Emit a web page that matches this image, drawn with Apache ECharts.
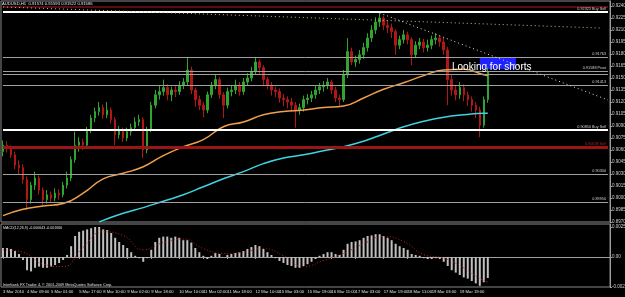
<!DOCTYPE html>
<html>
<head>
<meta charset="utf-8">
<script src="https://cdn.jsdelivr.net/npm/echarts@6/dist/echarts.min.js"></script>
<style>
  html, body { margin: 0; padding: 0; background: #000; }
  #chart { width: 625px; height: 297px; }
</style>
</head>
<body>
<div id="chart"></div>
<script>
// AUDUSD H1, 3 Mar - 22 Mar 2010 (one candle per ~2.5h)
const opens = [
  0.9058,0.9066,0.9063,0.9054,0.9041,0.9038,0.9023,0.8998,0.9016,0.9025,
  0.9010,0.8998,0.9004,0.9000,0.9006,0.9004,0.9016,0.9025,0.9048,0.9066,
  0.9070,0.9066,0.9085,0.9100,0.9108,0.9113,0.9104,0.9110,0.9098,0.9079,
  0.9085,0.9075,0.9083,0.9088,0.9095,0.9098,0.9060,0.9085,0.9116,0.9129,
  0.9133,0.9138,0.9129,0.9135,0.9133,0.9141,0.9145,0.9160,0.9135,0.9123,
  0.9116,0.9110,0.9129,0.9141,0.9148,0.9129,0.9116,0.9133,0.9135,0.9141,
  0.9133,0.9145,0.9150,0.9158,0.9170,0.9163,0.9148,0.9141,0.9135,0.9133,
  0.9125,0.9123,0.9120,0.9116,0.9110,0.9113,0.9123,0.9125,0.9129,0.9135,
  0.9139,0.9141,0.9145,0.9135,0.9125,0.9123,0.9154,0.9183,0.9170,0.9173,
  0.9179,0.9188,0.9200,0.9210,0.9220,0.9225,0.9216,0.9213,0.9208,0.9191,
  0.9198,0.9204,0.9198,0.9179,0.9191,0.9195,0.9188,0.9191,0.9198,0.9200,
  0.9195,0.9185,0.9148,0.9135,0.9129,0.9138,0.9129,0.9123,0.9116,0.9110,
  0.9091,0.9123
];
const closes = [
  0.9066,0.9063,0.9054,0.9041,0.9038,0.9023,0.8998,0.9016,0.9025,0.9010,
  0.8998,0.9004,0.9000,0.9006,0.9004,0.9016,0.9025,0.9048,0.9066,0.9070,
  0.9066,0.9085,0.9100,0.9108,0.9113,0.9104,0.9110,0.9098,0.9079,0.9085,
  0.9075,0.9083,0.9088,0.9095,0.9098,0.9060,0.9085,0.9116,0.9129,0.9133,
  0.9138,0.9129,0.9135,0.9133,0.9141,0.9145,0.9160,0.9135,0.9123,0.9116,
  0.9110,0.9129,0.9141,0.9148,0.9129,0.9116,0.9133,0.9135,0.9141,0.9133,
  0.9145,0.9150,0.9158,0.9170,0.9163,0.9148,0.9141,0.9135,0.9133,0.9125,
  0.9123,0.9120,0.9116,0.9110,0.9113,0.9123,0.9125,0.9129,0.9135,0.9139,
  0.9141,0.9145,0.9135,0.9125,0.9123,0.9154,0.9183,0.9170,0.9173,0.9179,
  0.9188,0.9200,0.9210,0.9220,0.9225,0.9216,0.9213,0.9208,0.9191,0.9198,
  0.9204,0.9198,0.9179,0.9191,0.9195,0.9188,0.9191,0.9198,0.9200,0.9195,
  0.9185,0.9148,0.9135,0.9129,0.9138,0.9129,0.9123,0.9116,0.9110,0.9091,
  0.9123,0.9158
];
const lows = [
  0.9052,0.9057,0.9050,0.9036,0.9030,0.9018,0.8985,0.8993,0.9010,0.9004,
  0.8991,0.8993,0.8994,0.8996,0.8998,0.9001,0.9012,0.9021,0.9044,0.9058,
  0.9060,0.9063,0.9081,0.9095,0.9103,0.9099,0.9100,0.9093,0.9066,0.9074,
  0.9070,0.9071,0.9078,0.9084,0.9090,0.9050,0.9056,0.9082,0.9112,0.9123,
  0.9128,0.9122,0.9121,0.9126,0.9129,0.9136,0.9140,0.9130,0.9114,0.9110,
  0.9101,0.9106,0.9125,0.9136,0.9124,0.9100,0.9112,0.9127,0.9130,0.9128,
  0.9129,0.9140,0.9146,0.9154,0.9155,0.9141,0.9136,0.9128,0.9126,0.9119,
  0.9115,0.9112,0.9108,0.9088,0.9104,0.9108,0.9117,0.9120,0.9124,0.9130,
  0.9133,0.9136,0.9130,0.9120,0.9114,0.9120,0.9150,0.9166,0.9164,0.9168,
  0.9174,0.9183,0.9195,0.9205,0.9214,0.9210,0.9206,0.9200,0.9179,0.9186,
  0.9193,0.9192,0.9166,0.9175,0.9186,0.9182,0.9183,0.9186,0.9192,0.9189,
  0.9179,0.9116,0.9128,0.9122,0.9124,0.9121,0.9115,0.9108,0.9100,0.9076,
  0.9088,0.9119
];
const highs = [
  0.9072,0.9071,0.9066,0.9058,0.9047,0.9042,0.9027,0.9020,0.9033,0.9028,
  0.9013,0.9010,0.9008,0.9012,0.9011,0.9020,0.9033,0.9052,0.9083,0.9076,
  0.9074,0.9089,0.9104,0.9113,0.9120,0.9117,0.9120,0.9113,0.9101,0.9090,
  0.9088,0.9088,0.9093,0.9101,0.9104,0.9101,0.9089,0.9120,0.9135,0.9140,
  0.9148,0.9142,0.9139,0.9140,0.9146,0.9150,0.9176,0.9164,0.9138,0.9128,
  0.9120,0.9133,0.9145,0.9154,0.9151,0.9132,0.9138,0.9140,0.9148,0.9145,
  0.9150,0.9156,0.9164,0.9176,0.9173,0.9166,0.9151,0.9145,0.9139,0.9137,
  0.9130,0.9127,0.9125,0.9120,0.9118,0.9128,0.9130,0.9134,0.9140,0.9144,
  0.9146,0.9150,0.9148,0.9139,0.9129,0.9160,0.9200,0.9188,0.9178,0.9185,
  0.9194,0.9206,0.9216,0.9226,0.9231,0.9228,0.9222,0.9218,0.9211,0.9203,
  0.9210,0.9208,0.9201,0.9196,0.9200,0.9199,0.9198,0.9203,0.9206,0.9204,
  0.9200,0.9189,0.9155,0.9140,0.9145,0.9142,0.9133,0.9127,0.9120,0.9114,
  0.9127,0.9163
];

// moving averages, [candle index, value]
const maSlow = [
  [0,0.8978],[5,0.8986],[10,0.8990],[15,0.8993],[20,0.9006],[25,0.9024],
  [30,0.9031],[35,0.9039],[40,0.9053],[45,0.9064],[50,0.9073],[55,0.9089],
  [60,0.9095],[65,0.9104],[70,0.9108],[75,0.9110],[80,0.9113],[85,0.9115],
  [90,0.9125],[95,0.9136],[100,0.9144],[105,0.9153],[110,0.9160],[115,0.9161],
  [120,0.9154],[121,0.9153]
];
const maLong = [
  [24,0.8970],[25,0.8972],[30,0.8981],[35,0.8988],[40,0.8996],[45,0.9004],
  [50,0.9014],[55,0.9024],[60,0.9033],[65,0.9043],[70,0.9050],[75,0.9054],
  [80,0.9059],[85,0.9064],[90,0.9071],[95,0.9080],[100,0.9089],[105,0.9096],
  [110,0.9101],[115,0.9104],[120,0.9106],[121,0.9106]
];

// MACD(12,26,9)
const macdHist = [
  0.00075,0.00075,0.00067,0.0005,0.00025,-0.00025,-0.0011,-0.0012,-0.0009,-0.0008,
  -0.0009,-0.0009,-0.0008,-0.00067,-0.0005,-0.00025,0.00017,0.0009,0.00175,0.0021,
  0.0022,0.0023,0.0024,0.0025,0.0025,0.0023,0.00225,0.002,0.0016,0.00125,
  0.001,0.00075,0.0004,0.0001,-0.0001,-0.0004,-0.0001,0.0006,0.00125,0.0016,
  0.0017,0.0017,0.0016,0.0017,0.0016,0.0014,0.0014,0.0012,0.00075,0.0004,
  0.0001,-0.00017,0.0001,0.00033,0.00025,0,0.00017,0.00025,0.00033,0.0004,
  0.0005,0.00067,0.00083,0.001,0.0009,0.00067,0.0004,0.00017,-0.0001,-0.00033,
  -0.0005,-0.00067,-0.00075,-0.0009,-0.0009,-0.00075,-0.0006,-0.0004,-0.00017,0.0001,
  0.00025,0.0004,0.0004,0.00025,0.00017,0.0006,0.0011,0.00125,0.0013,0.0014,
  0.0016,0.00175,0.0018,0.0019,0.0019,0.00175,0.0016,0.0014,0.0011,0.0009,
  0.00075,0.0006,0.00025,0.00017,0.0001,-0.0001,-0.00017,-0.00017,-0.0001,-0.00017,
  -0.0004,-0.00075,-0.0011,-0.0013,-0.0015,-0.0017,-0.0018,-0.002,-0.0022,-0.0024,
  -0.0021,-0.00175
];
const macdSignal = [
  [0,0.0006],[5,0.0004],[10,-0.0006],[15,-0.0008],[20,0.0008],[25,0.0021],
  [30,0.0018],[35,0.0006],[40,0.0012],[45,0.0015],[50,0.0007],[55,0.0003],
  [60,0.0004],[65,0.0007],[70,0.0001],[75,-0.0008],[80,-0.0003],[85,0.0003],
  [90,0.0011],[95,0.0017],[100,0.0013],[105,0.0002],[110,-0.0001],[115,-0.0009],
  [118,-0.0016],[121,-0.0021]
];

// drawn objects
const levelPrices = [0.92388, 0.92325, 0.91763, 0.91588, 0.91550, 0.91413, 0.90850, 0.90638, 0.90300, 0.89950];
const levelTexts  = ['', '0.92325 Buy Sell', '0.91763', '0.91588 Pivot', '', '0.91413', '0.90850 Buy Sell', '0.90638 Sell', '0.90300', '0.89950'];
const levelKinds  = ['redthin', 'white', 'gray', 'gray', 'gray', 'gray', 'white', 'red', 'gray', 'gray'];
const trendTop  = [[0, 0.92388], [149, 0.92125]];
const trendDown = [[94, 0.92313], [151, 0.91225]];
const zoneBox   = [[119, 0.91763], [128, 0.91613]];

const tickIdx  = [0, 6, 12, 19, 25, 31, 37, 44, 50, 56, 63, 69, 76, 82, 88, 95, 101, 107, 114, 120];
const tickText = ['3 Mar 2010', '4 Mar 09:00', '5 Mar 01:00', '5 Mar 17:00', '8 Mar 10:00', '9 Mar 02:00',
  '9 Mar 18:00', '10 Mar 10:00', '11 Mar 02:00', '11 Mar 18:00', '12 Mar 10:00', '15 Mar 03:00',
  '15 Mar 19:00', '16 Mar 11:00', '17 Mar 03:00', '17 Mar 19:00', '18 Mar 11:00', '19 Mar 03:00',
  '19 Mar 19:00', '22 Mar 13:00'];

const SLOTS = 152; // chart keeps empty space on the right
const cats = [];
for (let i = 0; i < SLOTS; i++) cats.push(String(i));
const candles = opens.map((o, i) => [o, closes[i], lows[i], highs[i]]);

const lineStyles = {
  gray:    { color: '#a0a0a0', width: 1, type: 'solid' },
  white:   { color: '#ffffff', width: 2, type: 'solid' },
  red:     { color: '#9a1515', width: 3, type: 'solid' },
  redthin: { color: '#7a1010', width: 1.5, type: 'solid' }
};
const FONT = 'Liberation Sans';
const boxLabel = (txt) => ({ show: true, position: 'end', distance: 2, formatter: txt,
  color: '#000', backgroundColor: '#ffffff', padding: [0, 1], fontSize: 4.5, fontFamily: FONT });

const markLines = [];
levelPrices.forEach((p, i) => {
  const k = levelKinds[i];
  markLines.push([
    { coord: [0, p], lineStyle: lineStyles[k],
      label: { show: levelTexts[i] !== '', formatter: levelTexts[i], position: 'insideEndTop',
        distance: [2, 1], color: k === 'red' ? '#b02020' : '#d0d0d0', fontSize: 3.8, fontFamily: FONT } },
    { coord: [SLOTS - 1, p] }
  ]);
  if (k === 'white') {
    markLines.push([
      { coord: [0, p], lineStyle: { width: 0, opacity: 0 }, label: boxLabel(p.toFixed(5)) },
      { coord: [SLOTS - 1, p] }
    ]);
  }
});
const last = closes[closes.length - 1];
markLines.push([
  { coord: [0, last], lineStyle: { width: 0, opacity: 0 }, label: boxLabel(last.toFixed(5)) },
  { coord: [SLOTS - 1, last] }
]);
markLines.push([
  { coord: trendTop[0], lineStyle: { color: '#c8c080', width: 1, type: [1, 3] }, label: { show: false } },
  { coord: trendTop[1] }
]);
markLines.push([
  { coord: trendDown[0], lineStyle: { color: '#e0e0e0', width: 1, type: [1, 3] }, label: { show: false } },
  { coord: trendDown[1] }
]);

const chart = echarts.init(document.getElementById('chart'));
const option = {
  backgroundColor: '#000',
  animation: false,
  textStyle: { fontFamily: FONT },
  grid: [
    { left: 1, right: 15, top: 1, height: 221, show: true, borderColor: '#8a8a8a', borderWidth: 1,
      outerBoundsMode: 'none', containLabel: false },
    { left: 1, right: 15, top: 224, height: 63, show: true, borderColor: '#8a8a8a', borderWidth: 1,
      outerBoundsMode: 'none', containLabel: false }
  ],
  xAxis: [
    { type: 'category', gridIndex: 0, data: cats, axisLine: { show: false }, axisTick: { show: false },
      axisLabel: { show: false }, splitLine: { show: false } },
    { type: 'category', gridIndex: 1, data: cats,
      axisLine: { lineStyle: { color: '#a0a0a0' } },
      axisTick: { show: true, alignWithLabel: true, length: 2, interval: (i) => tickIdx.includes(i),
        lineStyle: { color: '#a0a0a0' } },
      axisLabel: { interval: (i) => tickIdx.includes(i), align: 'left', margin: 3, fontSize: 4.2,
        color: '#e0e0e0', fontFamily: FONT, hideOverlap: false,
        formatter: (v) => tickText[tickIdx.indexOf(Number(v))] },
      splitLine: { show: false } }
  ],
  yAxis: [
    { type: 'value', gridIndex: 0, position: 'right', min: 0.8970, max: 0.924625, interval: 0.0015,
      splitLine: { show: false },
      axisLine: { show: true, lineStyle: { color: '#a0a0a0' } },
      axisTick: { show: true, length: 2, lineStyle: { color: '#a0a0a0' } },
      axisLabel: { fontSize: 4.5, color: '#d0d0d0', margin: 2, showMaxLabel: false,
        formatter: (v) => v.toFixed(5), fontFamily: FONT } },
    { type: 'value', gridIndex: 1, position: 'right', min: -0.0025, max: 0.00275, interval: 0.0025,
      splitLine: { show: false },
      axisLine: { show: true, lineStyle: { color: '#a0a0a0' } },
      axisTick: { show: true, length: 2, lineStyle: { color: '#a0a0a0' } },
      axisLabel: { fontSize: 4.5, color: '#d0d0d0', margin: 2, showMaxLabel: false,
        formatter: (v) => (v === 0 ? '0.00' : v.toFixed(5)), fontFamily: FONT } }
  ],
  series: [
    {
      type: 'candlestick', xAxisIndex: 0, yAxisIndex: 0, data: candles, barWidth: 2,
      itemStyle: { color: '#2fa52f', color0: '#b01818', borderColor: '#2fa52f', borderColor0: '#b01818', borderWidth: 1 },
      markLine: { silent: true, symbol: ['none', 'none'], animation: false, data: markLines },
      markArea: { silent: true, itemStyle: { color: '#1f22ff' },
        data: [[{ coord: zoneBox[0] }, { coord: zoneBox[1] }]] }
    },
    { type: 'line', xAxisIndex: 0, yAxisIndex: 0, data: maSlow, smooth: true, symbol: 'none',
      lineStyle: { color: '#f0a04a', width: 1.5 } },
    { type: 'line', xAxisIndex: 0, yAxisIndex: 0, data: maLong, smooth: true, symbol: 'none',
      lineStyle: { color: '#3fd2e0', width: 1.5 } },
    { type: 'bar', xAxisIndex: 1, yAxisIndex: 1, data: macdHist, barWidth: 2,
      itemStyle: { color: '#c0c0c0' } },
    { type: 'line', xAxisIndex: 1, yAxisIndex: 1, data: macdSignal, smooth: true, symbol: 'none',
      lineStyle: { color: '#c02020', width: 1, type: [1, 2] } }
  ],
  graphic: [
    { type: 'text', left: 2, top: 2, z: 100, style: { text: 'AUDUSD,H1  0.91574 0.91593 0.91522 0.91586',
      fill: '#e8e8e8', fontSize: 4.2, fontFamily: FONT } },
    { type: 'text', left: 452, top: 62, z: 100, style: { text: 'Looking for shorts',
      fill: '#ffffff', fontSize: 10, fontFamily: FONT } },
    { type: 'text', left: 3, top: 226, z: 100, style: { text: 'MACD(12,26,9) -0.000643 -0.001666',
      fill: '#e0e0e0', fontSize: 3.6, fontFamily: FONT } },
    { type: 'text', left: 3, top: 283, z: 100, style: { text: 'Interbank FX Trader 4, \u00a9 2001-2009 MetaQuotes Software Corp.',
      fill: '#e0e0e0', fontSize: 3.8, fontFamily: FONT } }
  ]
};
chart.setOption(option);
</script>
</body>
</html>
